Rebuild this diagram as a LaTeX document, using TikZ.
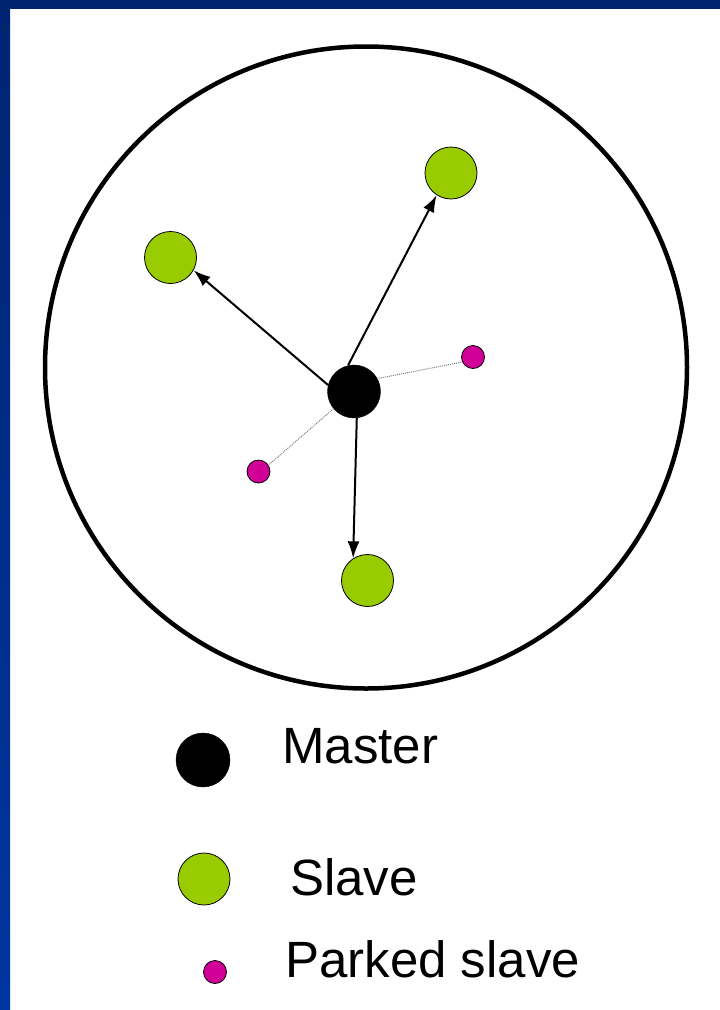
\documentclass[tikz,border=0pt]{standalone}
\usepackage{fontspec}
\setmainfont{Liberation Sans}
\usetikzlibrary{arrows.meta}
\definecolor{bandtop}{RGB}{0,36,112}
\definecolor{bandleft}{RGB}{0,54,160}
\definecolor{slavegreen}{RGB}{153,204,0}
\definecolor{parkpink}{RGB}{208,0,150}
\begin{document}
\begin{tikzpicture}[x=1pt,y=-1pt,
    mst/.style={circle, draw, fill=black, minimum size=53pt, inner sep=0pt},
    slv/.style={circle, draw, line width=0.8pt, fill=slavegreen, minimum size=52pt, inner sep=0pt},
    prk/.style={circle, draw, line width=0.8pt, fill=parkpink, minimum size=23pt, inner sep=0pt},
    key/.style={anchor=base west, inner sep=0pt, font=\fontsize{51pt}{60pt}\selectfont},
    link/.style={-{Latex[length=17pt,width=12pt]}, line width=2pt},
    park/.style={densely dotted, gray, line width=1pt}]
  \useasboundingbox[fill=white] (0,0) rectangle (720,1010);
  \fill[bandtop] (0,0) rectangle (720,9);
  \shade[top color=bandtop, bottom color=bandleft] (0,0) rectangle (10,1010);
  \node[circle, draw, line width=4.5pt, minimum size=642pt, inner sep=0pt] (range) at (366,367.5) {};
  \node[mst] (master) at (354,391.5) {};
  \node[slv] (slaveleft) at (170.5,257.5) {};
  \node[slv] (slavetop) at (451,173) {};
  \node[slv] (slavebottom) at (367.5,580.5) {};
  \node[prk] (parkright) at (473,357) {};
  \node[prk] (parkleft) at (258.5,471.5) {};
  \draw[link] (master.166) -- (slaveleft.331);
  \draw[link] (master.103) -- (slavetop.237);
  \draw[link] (master.276) -- (slavebottom.123);
  \draw[park] (master.29) -- (parkright.205);
  \draw[park] (master.220) -- (parkleft.33);
  \node[mst, minimum size=54pt] (keymaster) at (203,760) {};
  \node[key] (txtmaster) at (282,763) {Master};
  \node[slv] (keyslave) at (204,879) {};
  \node[key] (txtslave) at (290,895) {Slave};
  \node[prk] (keypark) at (215,972) {};
  \node[key] (txtpark) at (285,977) {Parked slave};
\end{tikzpicture}
\end{document}
